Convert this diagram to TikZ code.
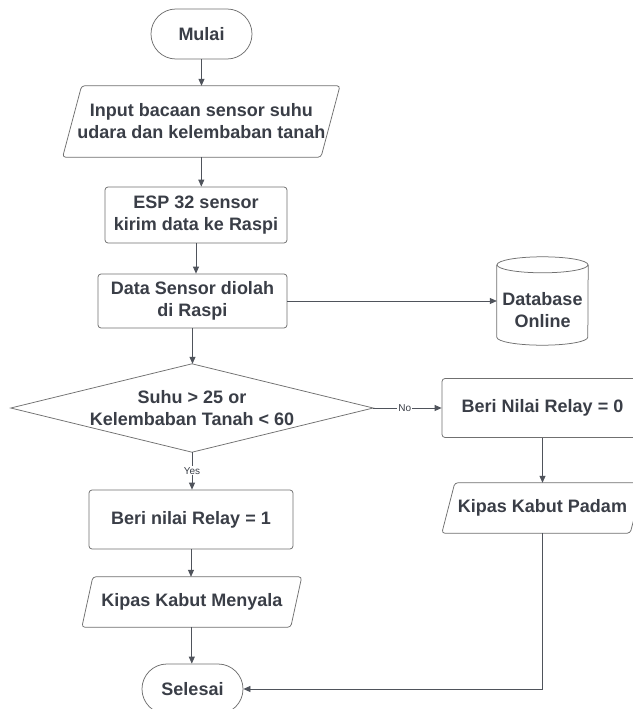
\documentclass[tikz,border=0pt]{standalone}
\usepackage{fontspec}
\setmainfont{Liberation Sans}
\usetikzlibrary{arrows.meta,calc}
\definecolor{txt}{HTML}{3A3E47}
\definecolor{brd}{HTML}{707070}
\definecolor{ln}{HTML}{4F535B}
\newcommand\drawPgram[2]{\draw[shapeline] ($(#1.south west)+(-#2,0)$) -- ($(#1.south east)+(-#2,0)$) -- ($(#1.north east)+(#2,0)$) -- ($(#1.north west)+(#2,0)$) -- cycle;}
\begin{document}
\begin{tikzpicture}[x=1pt,y=1pt,
  every node/.style={font=\fontsize{18}{22}\selectfont\bfseries, text=txt, align=center, inner sep=0pt},
  shapeline/.style={draw=brd, line width=0.75pt, rounded corners=3pt},
  procbox/.style={shapeline},
  term/.style={draw=brd, line width=0.75pt, rounded corners=24.9pt},
  ghost/.style={draw=none},
  edge/.style={draw=ln, line width=0.75pt, -{Triangle[length=7pt,width=6pt]}},
  lbl/.style={font=\fontsize{10}{12}\selectfont, fill=white, inner sep=1pt, text=txt}]
\useasboundingbox (0,0) rectangle (632,-709);
\fill[white] (0,0) rectangle (632,-709);

% nodes
\node[term, minimum width=101, minimum height=50] (mulai) at (201.5,-34) {Mulai};
\node[ghost, minimum width=258, minimum height=71] (input) at (201.3,-121.5) {Input bacaan sensor suhu\\udara dan kelembaban tanah};
\drawPgram{input}{9.5}
\node[procbox, minimum width=182, minimum height=56] (esp) at (196,-215) {ESP 32 sensor\\kirim data ke Raspi};
\node[procbox, minimum width=189, minimum height=54] (data) at (192.5,-301) {Data Sensor diolah\\di Raspi};
\node[ghost, minimum width=91, minimum height=88] (db) at (542.5,-301) {};
\draw[shapeline, rounded corners=0pt] ($(db.north west)+(0,-8)$) -- ($(db.south west)+(0,8)$)
  arc[start angle=180, end angle=360, x radius=45.5, y radius=8] -- ($(db.north east)+(0,-8)$);
\draw[shapeline, rounded corners=0pt] ($(db.north)+(0,-8)$) ellipse[x radius=45.5, y radius=8];
\node (dbtext) at ($(db.center)+(0,-9)$) {Database\\Online};
\node[ghost, minimum width=362, minimum height=88] (dec) at (192,-408) {Suhu > 25 or\\Kelembaban Tanah < 60};
\draw[shapeline, rounded corners=0pt] (dec.west) -- (dec.north) -- (dec.east) -- (dec.south) -- cycle;
\node[procbox, minimum width=201, minimum height=59] (r0) at (542.5,-408) {Beri Nilai Relay = 0};
\node[ghost, minimum width=188, minimum height=50] (pdm) at (542.5,-508) {Kipas Kabut Padam};
\drawPgram{pdm}{6.5}
\node[procbox, minimum width=204, minimum height=59] (r1) at (191,-519.5) {Beri nilai Relay = 1};
\node[ghost, minimum width=208.5, minimum height=50] (mny) at (191.8,-602) {Kipas Kabut Menyala};
\drawPgram{mny}{5.5}
\node[term, minimum width=101, minimum height=50] (sel) at (192.5,-689) {Selesai};

% connectors
\draw[edge] (mulai.south) -- (mulai.south |- input.north);
\draw[edge] (input.south) -- (input.south |- esp.north);
\draw[edge] (esp.south) -- (esp.south |- data.north);
\draw[edge] (data.east) -- (db.west);
\draw[edge] (data.south) -- (data.south |- dec.north);
\draw[edge] (dec.east) -- node[lbl, pos=0.46] {No} (r0.west);
\draw[edge] (dec.south) -- node[lbl] {Yes} (dec.south |- r1.north);
\draw[edge] (r1.south) -- (r1.south |- mny.north);
\draw[edge] (mny.south) -- (mny.south |- sel.north);
\draw[edge] (r0.south) -- (r0.south |- pdm.north);
\draw[edge] (pdm.south) |- (sel.east);
\end{tikzpicture}
\end{document}
